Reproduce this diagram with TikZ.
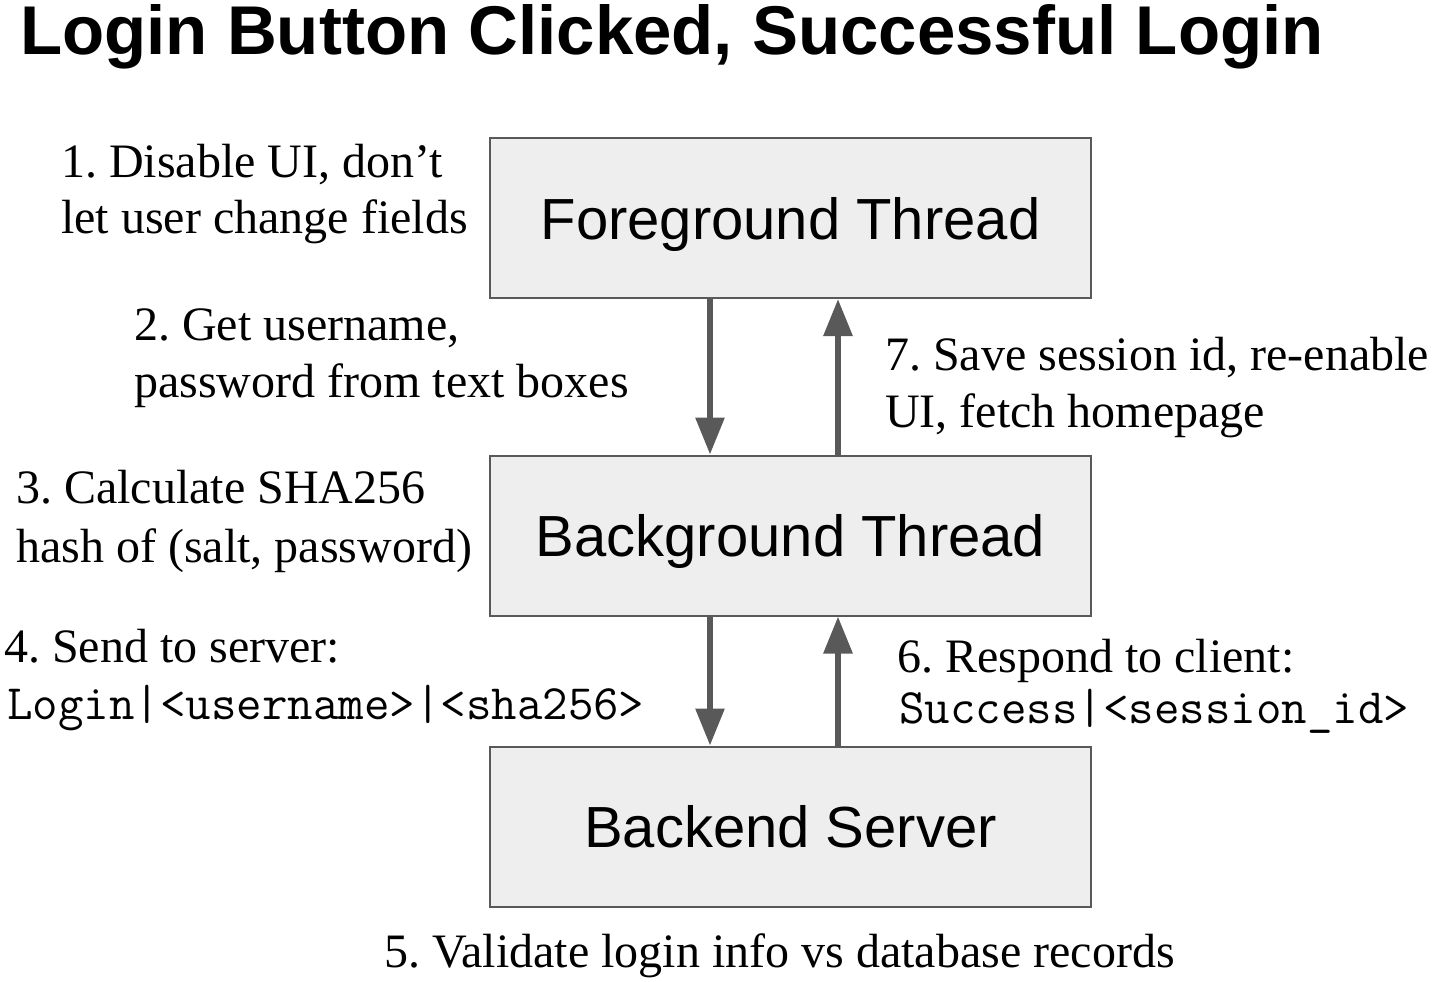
\documentclass[tikz,border=0pt]{standalone}
\usepackage{fontspec}
\setmainfont{Liberation Serif}
\setsansfont{Liberation Sans}
\usetikzlibrary{arrows.meta}
\definecolor{boxfill}{HTML}{EEEEEE}
\definecolor{boxline}{HTML}{595959}
\definecolor{arrowcol}{HTML}{595959}
\frenchspacing
\begin{document}
\begin{tikzpicture}[x=1pt,y=-1pt,
  titletext/.style={font=\sffamily\bfseries\fontsize{69}{83}\selectfont, anchor=base west, inner sep=0pt},
  box/.style={draw=boxline, line width=2pt, fill=boxfill, minimum width=601pt, minimum height=160pt,
    inner sep=0pt, font=\sffamily\fontsize{58}{70}\selectfont, text height=42pt, text depth=0pt},
  lbl/.style={font=\rmfamily\fontsize{48}{57}\selectfont, anchor=base west, inner sep=0pt},
  code/.style={font=\ttfamily\fontsize{49.5}{56}\selectfont, anchor=base west, inner sep=0pt},
  flow/.style={draw=arrowcol, line width=6pt, -{Triangle[length=37pt,width=28pt]}}]
\useasboundingbox (0,0) rectangle (1432,982);

% title
\node[titletext] (title) at (20,55) {Login Button Clicked, Successful Login};

% boxes
\node[box] (fg) at (790.5,218) {Foreground Thread};
\node[box] (bg) at (790.5,535.5) {Background Thread};
\node[box] (be) at (790.5,826.5) {Backend Server};

% arrow columns
\coordinate (downx) at (710,0);
\coordinate (upx) at (838,0);

\draw[flow] (fg.south -| downx) -- (bg.north -| downx);
\draw[flow] (bg.north -| upx) -- (fg.south -| upx);
\draw[flow] (bg.south -| downx) -- (be.north -| downx);
\draw[flow] (be.north -| upx) -- (bg.south -| upx);

% labels
\node[lbl] (l1a) at (61,177) {1. Disable UI, don’t};
\node[lbl] (l1b) at (61,233) {let user change fields};

\node[lbl] (l2a) at (134,340) {2. Get username,};
\node[lbl] (l2b) at (134,397) {password from text boxes};

\node[lbl] (l7a) at (885,370) {7. Save session id, re-enable};
\node[lbl] (l7b) at (885,427) {UI, fetch homepage};

\node[lbl] (l3a) at (16,503) {3. Calculate SHA256};
\node[lbl] (l3b) at (16,562) {hash of (salt, password)};

\node[lbl] (l4a) at (4,662) {4. Send to server:};
\node[code] (l4b) at (7,719) {Login|<username>|<sha256>};

\node[lbl] (l6a) at (897,672) {6. Respond to client:};
\node[code] (l6b) at (899,723) {Success|<session\_id>};

\node[lbl] (l5) at (384,967) {5. Validate login info vs database records};
\end{tikzpicture}
\end{document}
